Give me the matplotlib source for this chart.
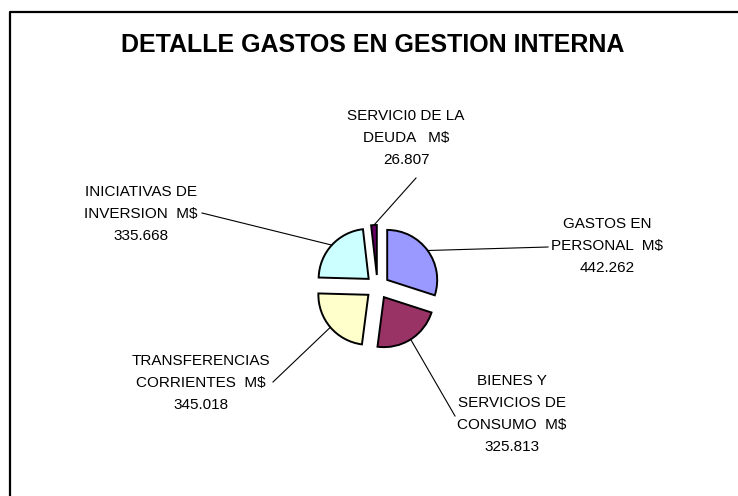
import numpy as np
import matplotlib.pyplot as plt

plt.rcParams["font.family"] = ["Liberation Sans", "DejaVu Sans"]

W, H = 738, 496

categories = [
    "GASTOS EN\nPERSONAL  M$",
    "BIENES Y\nSERVICIOS DE\nCONSUMO  M$",
    "TRANSFERENCIAS\nCORRIENTES  M$",
    "INICIATIVAS DE\nINVERSION  M$",
    "SERVICI0 DE LA\nDEUDA   M$",
]
values = [442.262, 325.813, 345.018, 335.668, 26.807]
colors = ["#9999FF", "#993366", "#FFFFCC", "#CCFFFF", "#660066"]

# label placement (pixel coords, y from top): text centre, leader end
label_pos = [(607, 246), (512, 414), (201, 383), (141, 214), (406, 138)]
leader_end = [(548, 247), (455, 416), (273, 382), (202, 213), (416, 178)]

fig = plt.figure(figsize=(W / 100, H / 100), dpi=100)
ax = fig.add_axes([0, 0, 1, 1])

wedges, _ = ax.pie(
    values,
    colors=colors,
    startangle=90,
    counterclock=False,
    radius=50,
    center=(377.5, H - 287),
    explode=[12] * len(values),
    wedgeprops=dict(edgecolor="black", linewidth=1.4),
)
ax.set_xlim(0, W)
ax.set_ylim(0, H)
ax.set_aspect("auto")
ax.axis("off")

for w, name, val, (tx, ty), (lx, ly) in zip(wedges, categories, values, label_pos, leader_end):
    mid = np.deg2rad((w.theta1 + w.theta2) / 2)
    cx, cy = w.center
    px, py = cx + w.r * np.cos(mid), cy + w.r * np.sin(mid)
    ax.plot([px, lx], [py, H - ly], color="black", lw=0.8)
    ax.text(tx, H - ty, f"{name}\n{val:.3f}", ha="center", va="center",
            multialignment="center", fontsize=11, linespacing=1.75)

ax.text(373, H - 45, "DETALLE GASTOS EN GESTION INTERNA", ha="center", va="center",
        fontsize=18, fontweight="bold")

# chart frame (only top and left edges fall inside the picture)
ax.plot([9.5, 9.5, W], [0, H - 12, H - 12], color="black", lw=1.6)

fig.savefig("out.png", dpi=100)
